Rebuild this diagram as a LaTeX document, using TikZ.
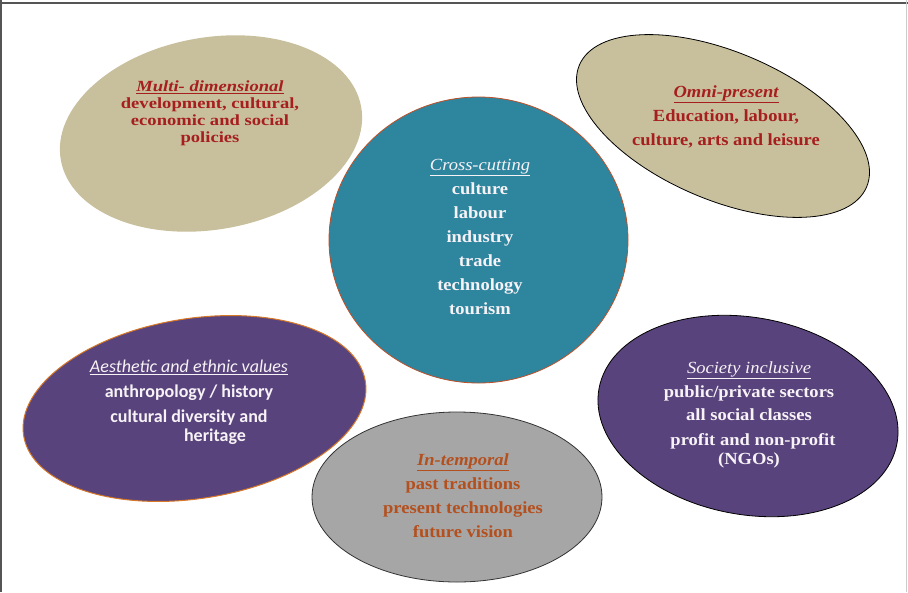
\documentclass[tikz,border=0pt]{standalone}
\usepackage{fontspec}
\setmainfont{Liberation Serif}
\newfontfamily\serA[FakeStretch=1.09]{Liberation Serif}
\newfontfamily\serB[FakeStretch=1.2]{Liberation Serif}
\newfontfamily\calf{Carlito}
\usetikzlibrary{shapes.geometric}
\definecolor{tanc}{RGB}{200,192,156}
\definecolor{tealc}{RGB}{46,133,158}
\definecolor{purp}{RGB}{89,67,124}
\definecolor{grayc}{RGB}{166,166,166}
\definecolor{redt}{RGB}{166,30,30}
\definecolor{oranget}{RGB}{180,80,30}
\definecolor{whitet}{RGB}{246,242,246}
\definecolor{circb}{RGB}{190,80,40}
\definecolor{aesb}{RGB}{215,120,40}
\definecolor{framegray}{RGB}{85,85,85}
\begin{document}
\begin{tikzpicture}[x=1pt,y=1pt,
  blob/.style={ellipse,inner sep=0pt,outer sep=0pt},
  lbl/.style={align=center,inner sep=0pt}]
\useasboundingbox (0,0) rectangle (908,-592);
\fill[white] (0,0) rectangle (908,-592);
% frame
\draw[line width=1.6pt,color=framegray] (0,-3) -- (908,-3);
\draw[line width=1.6pt,color=framegray] (1,0) -- (1,-592);
\draw[line width=1pt,color=black!20] (906.5,0) -- (906.5,-592);
% shapes
\node[blob,fill=tanc,minimum width=305,minimum height=192,rotate=10] (multi) at (211,-133.5) {};
\node[blob,fill=tanc,draw=black,line width=0.8pt,minimum width=312,minimum height=148,rotate=-23] (omni) at (723,-126) {};
\node[blob,fill=tealc,draw=circb,line width=0.8pt,minimum width=299,minimum height=286] (cross) at (478.5,-240) {};
\node[blob,fill=purp,draw=aesb,line width=1pt,minimum width=346,minimum height=180,rotate=9] (aes) at (194.5,-408.5) {};
\node[blob,fill=purp,draw=black,line width=0.8pt,minimum width=303,minimum height=197,rotate=-10.5] (soc) at (748,-416) {};
\node[blob,fill=grayc,draw=black!80,line width=0.8pt,minimum width=290,minimum height=170] (temp) at (457,-497) {};
% texts
\node[lbl,text=redt,font=\serB\bfseries\fontsize{15.5}{17}\selectfont] (multit) at (210,-113)
  {{\itshape\underline{Multi- dimensional}}\\development, cultural,\\economic and social\\policies};
\node[lbl,text=redt,font=\serA\bfseries\fontsize{17}{24}\selectfont] (omnit) at (726,-117)
  {{\itshape\underline{Omni-present}}\\Education, labour,\\culture, arts and leisure};
\node[lbl,text=whitet,font=\serA\bfseries\fontsize{17}{24}\selectfont] (crosst) at (480,-237)
  {{\mdseries\itshape\underline{Cross-cutting}}\\culture\\labour\\industry\\trade\\technology\\tourism};
\node[lbl,text=whitet,font=\calf\bfseries\fontsize{18}{25}\selectfont] (aest) at (189,-402.5)
  {{\mdseries\itshape\underline{Aesthetic and ethnic values}}\\anthropology / history\\cultural diversity and\\[-6pt]\hspace*{52pt}heritage};
\node[lbl,text=whitet,font=\serA\bfseries\fontsize{17}{24}\selectfont] (soct) at (749,-414.5)
  {{\mdseries\itshape\underline{Society inclusive}}\\public/private sectors\\[-1pt]all social classes\\[1pt]\hspace*{8pt}profit and non-profit\\[-5pt](NGOs)};
\node[lbl,text=oranget,font=\serA\bfseries\fontsize{17}{24}\selectfont] (tempt) at (463,-495.5)
  {{\itshape\underline{In-temporal}}\\past traditions\\present technologies\\future vision};
\end{tikzpicture}
\end{document}
